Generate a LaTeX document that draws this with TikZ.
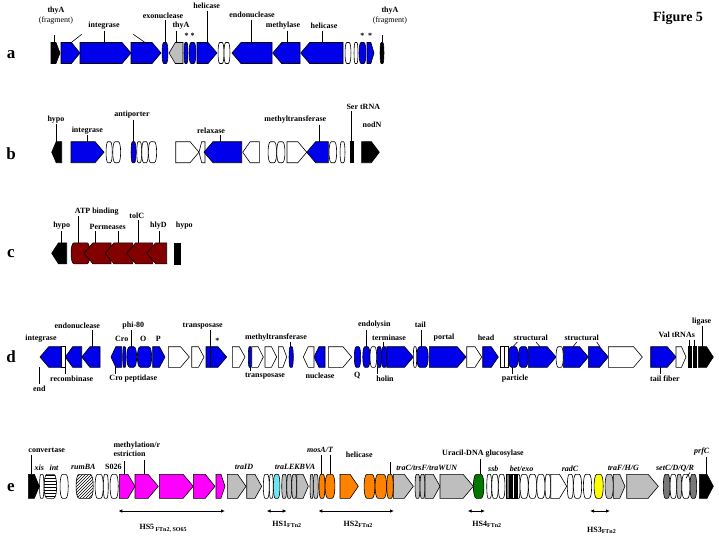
\documentclass[tikz,border=0pt]{standalone}
\usepackage{fontspec}
\setmainfont{Liberation Serif}
\usetikzlibrary{patterns,arrows.meta}

\definecolor{genblue}{RGB}{0,0,235}
\definecolor{genred}{RGB}{130,0,0}
\definecolor{genmag}{RGB}{255,0,255}
\definecolor{genorange}{RGB}{255,130,0}
\definecolor{gengray}{RGB}{190,190,190}
\definecolor{gendark}{RGB}{120,120,120}
\definecolor{gencyan}{RGB}{110,230,240}
\definecolor{gengreen}{RGB}{0,120,0}
\definecolor{genyellow}{RGB}{255,255,0}

% #1 style, #2 left, #3 right, #4 0 = both ends, 1 = forward, 2 = reverse, 3 = box
\newcommand{\gene}[4][]{%
  \pgfmathsetmacro{\gnA}{#2}\pgfmathsetmacro{\gnB}{#3}%
  \pgfmathsetmacro{\gnT}{min(0.85*\rowh,0.45*(\gnB-\gnA))}%
  \pgfmathsetmacro{\gnS}{min(3,0.3*(\gnB-\gnA))}%
  \ifcase#4
    \draw[genebox,#1] (\gnA+\gnS,\rowy-\rowh) -- (\gnB-\gnS,\rowy-\rowh)
      .. controls (\gnB+0.3*\gnS,\rowy-\rowh) and (\gnB+0.3*\gnS,\rowy+\rowh) .. (\gnB-\gnS,\rowy+\rowh)
      -- (\gnA+\gnS,\rowy+\rowh)
      .. controls (\gnA-0.3*\gnS,\rowy+\rowh) and (\gnA-0.3*\gnS,\rowy-\rowh) .. (\gnA+\gnS,\rowy-\rowh) -- cycle;
  \or
    \draw[genebox,#1] (\gnA,\rowy-\rowh) -- (\gnB-\gnT,\rowy-\rowh) -- (\gnB,\rowy)
      -- (\gnB-\gnT,\rowy+\rowh) -- (\gnA,\rowy+\rowh) -- cycle;
  \or
    \draw[genebox,#1] (\gnB,\rowy-\rowh) -- (\gnA+\gnT,\rowy-\rowh) -- (\gnA,\rowy)
      -- (\gnA+\gnT,\rowy+\rowh) -- (\gnB,\rowy+\rowh) -- cycle;
  \or
    \draw[genebox,#1] (\gnA,\rowy-\rowh) rectangle (\gnB,\rowy+\rowh);
  \fi}
\newcommand{\lead}[3]{\draw[leadline] (#1,#2) -- (#1,#3);}

\begin{document}
\begin{tikzpicture}[x=1pt, y=-1pt,
    genebox/.style = {draw=black, line width=0.6pt, fill=white},
    bluegene/.style = {fill=genblue},
    redgene/.style = {fill=genred},
    maggene/.style = {fill=genmag},
    orangegene/.style = {fill=genorange},
    graygene/.style = {fill=gengray},
    darkgene/.style = {fill=gendark},
    blackgene/.style = {fill=black},
    lbl/.style = {font=\fontsize{8}{9}\selectfont\bfseries, inner sep=0pt},
    ilbl/.style = {font=\fontsize{8}{9}\selectfont\bfseries\itshape, inner sep=0pt},
    plain/.style = {font=\fontsize{8}{9}\selectfont, inner sep=0pt},
    rowlbl/.style = {font=\fontsize{17}{18}\selectfont\bfseries, inner sep=0pt},
    leadline/.style = {line width=0.6pt},
    hsarrow/.style = {{Latex[length=4pt,width=3.5pt]}-{Latex[length=4pt,width=3.5pt]}, line width=0.8pt}
]
  \useasboundingbox (0,0) rectangle (719,539);

  \node (fig) [font=\fontsize{14}{16}\selectfont\bfseries] at (678,18) {Figure 5};

  % row a
  \node (rowa) [rowlbl] at (11,55) {a};
  \def\rowy{53}\def\rowh{10.5}
  \gene[blackgene]{51}{60}{1}
  \foreach \a/\b/\d in {61/80/1, 80/131/1, 131/161/1, 162/168/0, 184/188/0, 189/196/0, 197/217/1,
      232/272/2, 272.7/300/2, 300.7/343/2, 359/366/0, 367/374/1}
    {\gene[bluegene]{\a}{\b}{\d}}
  \gene[graygene]{169}{183}{2}
  \foreach \a/\b in {218/224, 224/230, 345/351, 354/358} {\gene{\a}{\b}{0}}
  \gene[blackgene]{380}{384}{0}

  \node (thyA1) [lbl] at (56,11) {thyA};
  \node (frag1) [plain] at (56,21) {(fragment)};
  \lead{54}{35}{42.5}
  \node (int1) [lbl] at (104,26) {integrase};
  \draw[leadline] (70.7,43) -- (81.7,34.3);
  \lead{104}{30.5}{42.5}
  \draw[leadline] (133.3,34.3) -- (145.7,43);
  \node (exo1) [lbl] at (163,15.3) {exonuclease};
  \lead{165}{20}{42.5}
  \node (thyA2) [lbl] at (181,26) {thyA};
  \lead{176.7}{30.5}{42.5}
  \node (st1) [lbl] at (186.7,35.5) {*};
  \node (st2) [lbl] at (192.5,35.5) {*};
  \node (hel1) [lbl] at (206.7,6) {helicase};
  \lead{207}{10.5}{42.5}
  \node (endo1) [lbl] at (252,15) {endonuclease};
  \lead{251.7}{19.5}{42.5}
  \node (meth1) [lbl] at (283,25.7) {methylase};
  \lead{287.3}{30.5}{42.5}
  \node (hel2) [lbl] at (324,26) {helicase};
  \lead{322}{30.5}{42.5}
  \node (st3) [lbl] at (362.3,35.5) {*};
  \node (st4) [lbl] at (370,35.5) {*};
  \node (thyA3) [lbl] at (390,11) {thyA};
  \node (frag2) [plain] at (390,21) {(fragment)};
  \lead{382.3}{35}{42.5}

  % row b
  \node (rowb) [rowlbl] at (11,154) {b};
  \def\rowy{152.2}\def\rowh{10.5}
  \gene[blackgene]{51.7}{61.7}{2}
  \gene[bluegene]{71}{104}{1}
  \foreach \a/\b in {106/112.3, 112.7/120.7, 136.7/141.7, 141.7/148.3, 148.3/156.7,
      268/276.7, 276.7/285, 329/336.7, 340/345} {\gene{\a}{\b}{0}}
  \gene[bluegene]{131}{136}{0}
  \gene{175.7}{199}{1}
  \gene{199}{205}{2}
  \gene[bluegene]{204}{241.7}{2}
  \gene{242.7}{259.3}{2}
  \gene{287}{306.7}{1}
  \gene[bluegene]{306.7}{328.3}{2}
  \gene[blackgene]{350.7}{353.3}{3}
  \gene[blackgene]{361.7}{379.3}{1}

  \node (hypo1) [lbl] at (56,120) {hypo};
  \lead{56}{124}{141.5}
  \node (int2) [lbl] at (87.3,130.7) {integrase};
  \lead{87.3}{135}{141.5}
  \node (anti) [lbl] at (132,115) {antiporter};
  \lead{133.3}{119.5}{141.5}
  \node (relax) [lbl] at (211,130.7) {relaxase};
  \lead{220}{135}{141.5}
  \node (mtr1) [lbl] at (295.3,120) {methyltransferase};
  \lead{319.3}{124.5}{141.5}
  \node (sert) [lbl] at (363.3,106.7) {Ser tRNA};
  \lead{351.7}{111}{141.5}
  \node (nodn) [lbl] at (372,125) {nodN};

  % row c
  \node (rowc) [rowlbl] at (11,254) {c};
  \def\rowy{253.3}\def\rowh{10.5}
  \gene[blackgene]{51.7}{66.7}{2}
  \gene[redgene]{71}{90}{0}
  \foreach \a/\b in {84/111, 105/132.7, 126.7/152.7, 146.7/166.7} {\gene[redgene]{\a}{\b}{2}}
  \gene[blackgene]{174}{180}{3}

  \node (hypo2) [lbl] at (61.7,226) {hypo};
  \lead{61.7}{230.5}{242.7}
  \node (atp) [lbl] at (96.7,211.7) {ATP binding};
  \lead{78}{216}{242.7}
  \node (perm) [lbl] at (107.7,226.7) {Permeases};
  \lead{95}{231}{242.7}
  \lead{118.3}{231}{242.7}
  \node (tolc) [lbl] at (136.7,215.7) {tolC};
  \lead{138.3}{220}{242.7}
  \node (hlyd) [lbl] at (158.3,226) {hlyD};
  \lead{159.3}{230.5}{242.7}
  \node (hypo3) [lbl] at (184.3,226) {hypo};

  % row d
  \node (rowd) [rowlbl] at (11,357) {d};
  \def\rowy{357}\def\rowh{10.3}
  \foreach \a/\b/\d in {40/61.7/2, 65.3/81.7/2, 81.7/100/2, 111/121.7/2, 122.7/126/0, 126.7/136.7/0,
      137.3/151.7/0, 152.7/165/1, 206/226.7/1, 248.3/251.7/0, 289/293.3/0, 314/325/2,
      354.3/360.7/0, 362.7/370/0, 376.7/381.7/0, 381.7/386.7/0, 386.7/413.3/1, 416.7/428.3/0,
      429.3/466/1, 482.7/498.3/1, 508.3/518.3/0, 518.3/528.3/0, 528.3/556/1, 563.3/588.3/1,
      588.3/608.3/1, 650.7/676/1}
    {\gene[bluegene]{\a}{\b}{\d}}
  \foreach \a/\b/\d in {61.7/65/3, 168.3/189.3/1, 191.7/204/1, 232.3/245/1, 251.7/263.3/1,
      265/276.7/1, 278.3/286.7/1, 303.3/314/2, 328.3/351.7/1, 370/376.7/0, 413.3/416.7/0,
      466.7/481.7/1, 500/504/3, 504/508/3, 556/563.3/0, 608.3/642.3/1, 676/686/1}
    {\gene{\a}{\b}{\d}}
  \gene[blackgene]{688.3}{691}{3}
  \gene[blackgene]{693.3}{696}{3}
  \gene[blackgene]{698.3}{713.3}{1}

  \node (int3) [lbl] at (41,338.3) {integrase};
  \node (endd) [lbl] at (39.3,389) {end};
  \lead{39.3}{367.3}{384}
  \node (endo2) [lbl] at (77.3,325.7) {endonuclease};
  \lead{92.7}{330}{346.7}
  \node (recomb) [lbl] at (71.7,378.3) {recombinase};
  \lead{65}{367.3}{373.5}
  \node (phi) [lbl] at (133.3,325.7) {phi-80};
  \lead{131}{330}{346.7}
  \node (cro) [lbl] at (121.7,339.3) {Cro};
  \node (geno) [lbl] at (143.3,339.3) {O};
  \node (genp) [lbl] at (158.3,339.3) {P};
  \node (crop) [lbl] at (133.3,378.3) {Cro peptidase};
  \lead{115}{367.3}{373.5}
  \node (tpos1) [lbl] at (202.7,325.7) {transposase};
  \lead{210.7}{330}{367.3}
  \node (st5) [lbl] at (217.3,341) {*};
  \node (mtr2) [lbl] at (276,337.7) {methyltransferase};
  \lead{290}{342}{346.7}
  \node (tpos2) [lbl] at (265,375.7) {transposase};
  \lead{250}{367.3}{371}
  \node (nucl) [lbl] at (320,375.7) {nuclease};
  \node (genq) [lbl] at (357.3,375.7) {Q};
  \node (endol) [lbl] at (374.3,325) {endolysin};
  \lead{366}{329.5}{346.7}
  \node (term) [lbl] at (389,337.3) {terminase};
  \lead{383.3}{341.5}{346.7}
  \node (holin) [lbl] at (385,378.3) {holin};
  \lead{377.7}{367.3}{373.5}
  \node (tail) [lbl] at (420.3,325) {tail};
  \lead{421.7}{329.5}{346.7}
  \node (portal) [lbl] at (444,337.7) {portal};
  \node (head) [lbl] at (486,337.7) {head};
  \node (struct1) [lbl] at (530.7,337.7) {structural};
  \draw[leadline] (517.3,342) -- (513,346.7);
  \draw[leadline] (536,342) -- (540,346.7);
  \node (struct2) [lbl] at (581.7,337.7) {structural};
  \draw[leadline] (576.7,342) -- (573,346.7);
  \draw[leadline] (596.7,342) -- (600,346.7);
  \node (part) [lbl] at (515,378.3) {particle};
  \lead{512.7}{367.3}{373.5}
  \node (fiber) [lbl] at (665,378.3) {tail fiber};
  \lead{660.7}{367.3}{373.5}
  \node (valt) [lbl] at (676.7,335) {Val tRNAs};
  \lead{689.7}{339.5}{346.7}
  \lead{694.7}{339.5}{346.7}
  \node (lig) [lbl] at (701.7,321.7) {ligase};
  \lead{702.7}{326}{346.7}

  % row e
  \node (rowe) [rowlbl] at (11,488) {e};
  \def\rowy{486.3}\def\rowh{12}
  \gene[blackgene]{28.3}{39.3}{1}
  \gene{39.5}{44}{0}
  \gene[pattern=horizontal lines]{44}{56.7}{0}
  \gene{60}{68.3}{0}
  \gene[pattern=north east lines]{76}{93.3}{0}
  \foreach \a/\b in {95/103.3, 103.3/108.3, 110/118.3, 263.3/269.3, 269.3/273.3,
      486.7/491.7, 491.7/498.3, 498.3/505, 517/520, 520/528.3, 528.3/536.7, 536.7/545,
      545/550.7, 567.3/573.3, 573.3/581.7, 583.3/591.7, 670/676.7, 681.7/690} {\gene{\a}{\b}{0}}
  \foreach \a/\b in {119.3/135, 135/158.3, 159.3/193.3, 193.3/215, 216/225} {\gene[maggene]{\a}{\b}{1}}
  \foreach \a/\b/\d in {227.3/246/1, 246.7/261.7/1, 281.7/286.7/0, 286.7/291.7/0, 291.7/296.7/0,
      296.7/308.3/1, 310/313.3/0, 313.3/318.3/0, 393.3/413.3/1, 415/420/0, 420/425/0,
      425/440/1, 440/473.3/1, 605/613.3/0, 613.3/625/1, 626.7/658.3/1, 676.7/681.7/0}
    {\gene[graygene]{\a}{\b}{\d}}
  \gene[fill=gencyan]{273.3}{280}{0}
  \foreach \a/\b/\d in {319/325/0, 325/335/0, 340/358.3/1, 364/375/0, 375/386.7/0, 386.7/393.3/0}
    {\gene[orangegene]{\a}{\b}{\d}}
  \gene[fill=gengreen]{473.3}{484}{0}
  \gene[darkgene]{506.7}{509.5}{3}
  \gene[blackgene]{509.5}{512}{3}
  \gene{512}{514.5}{3}
  \gene[blackgene]{514.5}{517}{3}
  \gene{550.7}{566.7}{1}
  \gene[fill=genyellow]{594}{603.3}{0}
  \gene[darkgene]{663.3}{670}{0}
  \gene[darkgene]{690}{696.7}{0}
  \gene[blackgene]{699.3}{713.3}{1}

  \node (conv) [lbl] at (46.7,450) {convertase};
  \lead{31.7}{454.5}{474.3}
  \node (xis) [ilbl] at (39.3,467.3) {xis};
  \node (inte) [ilbl] at (54,467.3) {int};
  \node (rumba) [ilbl] at (83.3,467.3) {rumBA};
  \node (s026) [lbl] at (113.3,467.3) {S026};
  \lead{124}{461}{474.3}
  \node (methr) [lbl, anchor=west, align=left] at (113.3,449) {methylation/r\\estriction};
  \lead{144}{459.5}{474.3}
  \node (traid) [ilbl] at (244,467.3) {traID};
  \node (tralek) [ilbl] at (295,467.3) {traLEKBVA};
  \node (mosa) [ilbl] at (320,450) {mosA/T};
  \lead{321.7}{455}{474.3}
  \lead{330}{455}{474.3}
  \node (hel3) [lbl] at (359.3,455) {helicase};
  \lead{390}{462}{474.3}
  \node (trac) [ilbl] at (426.7,468.3) {traC/trsF/traWUN};
  \node (ura) [lbl] at (483,454) {Uracil-DNA glucosylase};
  \lead{480}{459}{474.3}
  \node (ssb) [ilbl] at (493.3,468.3) {ssb};
  \node (bet) [ilbl] at (521.7,468.3) {bet/exo};
  \node (radc) [ilbl] at (570,468.3) {radC};
  \node (traf) [ilbl] at (623.3,468.3) {traF/H/G};
  \node (setc) [ilbl] at (675,468.3) {setC/D/Q/R};
  \draw[leadline] (690,472.5) -- (686,478);
  \node (prfc) [ilbl] at (701.7,451.7) {prfC};
  \lead{706}{456.5}{474.3}

  \coordinate (hs5a) at (118.3,511);  \coordinate (hs5b) at (225,511);
  \coordinate (hs1a) at (266.7,511);  \coordinate (hs1b) at (286.7,511);
  \coordinate (hs2a) at (318.3,511);  \coordinate (hs2b) at (394,511);
  \coordinate (hs4a) at (467.7,511);  \coordinate (hs4b) at (485,511);
  \coordinate (hs3a) at (590,511);    \coordinate (hs3b) at (610,511);
  \draw[hsarrow] (hs5a) -- (hs5b);
  \draw[hsarrow] (hs1a) -- (hs1b);
  \draw[hsarrow] (hs2a) -- (hs2b);
  \draw[hsarrow] (hs4a) -- (hs4b);
  \draw[hsarrow] (hs3a) -- (hs3b);
  \node (hs5) [lbl] at (163.3,528.3) {HS5\,\textsubscript{FTn2, SO65}};
  \node (hs1) [lbl] at (287,524.3) {HS1\textsubscript{FTn2}};
  \node (hs2) [lbl] at (358.3,524.3) {HS2\textsubscript{FTn2}};
  \node (hs4) [lbl] at (487,524.3) {HS4\textsubscript{FTn2}};
  \node (hs3) [lbl] at (601.7,530) {HS3\textsubscript{FTn2}};

\end{tikzpicture}
\end{document}
